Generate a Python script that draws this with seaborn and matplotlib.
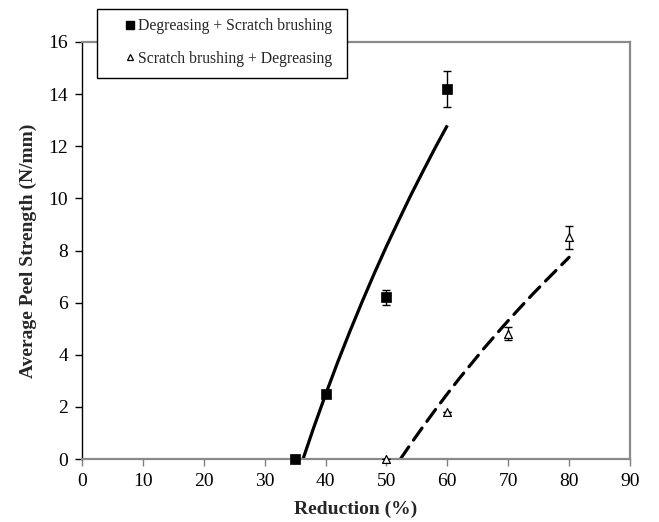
import matplotlib
matplotlib.use("Agg")
import matplotlib.pyplot as plt
import seaborn as sns
import pandas as pd
from matplotlib.lines import Line2D
from matplotlib.patches import Rectangle

# measured points
dsb_x = [35, 40, 50, 60]
dsb_y = [0.0, 2.5, 6.2, 14.2]
dsb_err = [0.0, 0.0, 0.3, 0.7]

sbd_x = [50, 60, 70, 80]
sbd_y = [0.0, 1.8, 4.8, 8.5]
sbd_err = [0.0, 0.0, 0.25, 0.43]

# trend curves
dsb_fit_x = [36.3, 38, 40, 42, 44, 46, 48, 50, 52, 54, 56, 58, 60]
dsb_fit_y = [0.0, 1.17, 2.47, 3.72, 4.90, 6.03, 7.12, 8.16, 9.15, 10.12, 11.04, 11.94, 12.8]
sbd_fit_x = [52.3, 54, 56, 58, 60, 62, 64, 66, 68, 70, 72, 74, 76, 78, 80]
sbd_fit_y = [0.0, 0.58, 1.24, 1.88, 2.50, 3.10, 3.67, 4.24, 4.78, 5.31, 5.82, 6.32, 6.80, 7.27, 7.74]

labels = ["Degreasing + Scratch brushing", "Scratch brushing + Degreasing"]
x_ticks = list(range(0, 91, 10))
y_ticks = list(range(0, 17, 2))

sns.set_theme(style="white")
plt.rcParams['font.family'] = ['Liberation Serif', 'DejaVu Serif']

W, H = 659, 522
fig = plt.figure(figsize=(W/100, H/100), dpi=100)
ax = fig.add_axes([82/W, 1-459/H, (630-82)/W, (459-42)/H])

fit1 = pd.DataFrame({"x": dsb_fit_x, "y": dsb_fit_y})
fit2 = pd.DataFrame({"x": sbd_fit_x, "y": sbd_fit_y})
sns.lineplot(data=fit1, x="x", y="y", ax=ax, color="black", lw=2.3, sort=False)
sns.lineplot(data=fit2, x="x", y="y", ax=ax, color="black", lw=2.3, sort=False)
ax.lines[-1].set_dashes((4.6, 2.6))
ax.lines[-1].set_dash_capstyle('round')
ax.lines[0].set_solid_capstyle('butt')

ax.errorbar(dsb_x, dsb_y, yerr=dsb_err, fmt='none', ecolor='black', elinewidth=1, capsize=3, capthick=1, zorder=3)
ax.errorbar(sbd_x, sbd_y, yerr=sbd_err, fmt='none', ecolor='black', elinewidth=1, capsize=3, capthick=1, zorder=3)

sns.scatterplot(x=dsb_x, y=dsb_y, ax=ax, marker='s', s=45, color='black', edgecolor='black', linewidth=0.5, zorder=5, clip_on=False)
sns.scatterplot(x=sbd_x, y=sbd_y, ax=ax, marker='^', s=32, facecolor='white', edgecolor='black', linewidth=0.9, zorder=5, clip_on=False)

ax.set_xlim(0, 90)
ax.set_ylim(0, 16)
ax.set_xticks(x_ticks)
ax.set_yticks(y_ticks)
ax.tick_params(axis='both', which='major', labelsize=14, direction='out', length=5, width=1, colors='#808080', labelcolor='black', pad=5)
ax.tick_params(axis='y', colors='black', labelcolor='black')
ax.tick_params(left=True, bottom=True)

for side in ['top', 'right', 'bottom']:
    ax.spines[side].set_color('#8a8a8a')
    ax.spines[side].set_linewidth(1.6)
ax.spines['left'].set_color('black')
ax.spines['left'].set_linewidth(1.0)

ax.set_xlabel("Reduction (%)", fontsize=14, fontweight='bold', labelpad=8)
ax.set_ylabel("Average Peel Strength (N/mm)", fontsize=14, fontweight='bold', labelpad=8)

# legend box
fig.patches.append(Rectangle((97/W, 1-78/H), (347-97)/W, (78-9)/H, transform=fig.transFigure,
                             facecolor='white', edgecolor='black', linewidth=1.0, zorder=9))
handles = [
    Line2D([], [], marker='s', color='black', linestyle='none', markersize=6),
    Line2D([], [], marker='^', markerfacecolor='white', markeredgecolor='black', linestyle='none', markersize=5, markeredgewidth=0.9),
]
leg = fig.legend(handles, labels, loc='center left', bbox_to_anchor=(125/W, 1-42.5/H),
                 frameon=False, fontsize=11.3, handlelength=0.7, handletextpad=0.15,
                 labelspacing=1.05, borderpad=0, borderaxespad=0)
leg.set_zorder(10)

fig.savefig("out.png", dpi=100)
